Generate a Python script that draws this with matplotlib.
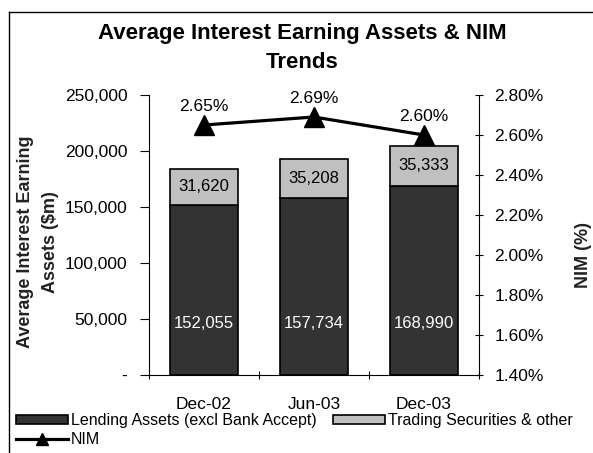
import matplotlib
matplotlib.use("Agg")
import matplotlib.pyplot as plt
from matplotlib.ticker import FuncFormatter, FixedLocator
from matplotlib.lines import Line2D
from matplotlib.patches import Patch
import numpy as np

plt.rcParams['font.family'] = ['Liberation Sans', 'DejaVu Sans']

periods = ["Dec-02", "Jun-03", "Dec-03"]
lending = [152055, 157734, 168990]
trading = [31620, 35208, 35333]
nim = [2.65, 2.69, 2.60]

dark = "#333333"
light = "#c0c0c0"

fig = plt.figure(figsize=(5.93, 4.53), dpi=100)
ax = fig.add_axes([149/593, 1-375/453, (479-149)/593, (375-95)/453])
x = np.arange(len(periods))
w = 0.62
ax.bar(x, lending, w, color=dark, edgecolor="black", linewidth=1.2, zorder=2)
ax.bar(x, trading, w, bottom=lending, color=light, edgecolor="black", linewidth=1.2, zorder=2)

for i in range(len(periods)):
    ax.text(x[i], 46000, f"{lending[i]:,}", ha="center", va="center", color="white", fontsize=12, zorder=3)
    ax.text(x[i], lending[i] + trading[i]/2, f"{trading[i]:,}", ha="center", va="center", color="black", fontsize=12, zorder=3)

ax.set_xlim(-0.5, 2.5)
ax.set_ylim(0, 250000)
ax.set_yticks(np.arange(0, 250001, 50000))
ax.yaxis.set_major_formatter(FuncFormatter(lambda v, p: "-" if v == 0 else f"{int(v):,}"))
ax.set_xticks(x)
ax.set_xticklabels(periods)
ax.xaxis.set_minor_locator(FixedLocator([-0.5, 0.5, 1.5, 2.5]))
ax.tick_params(axis="x", which="major", length=0, pad=16, labelsize=12.5)
ax.tick_params(axis="x", which="minor", direction="inout", length=6, width=0.8)
ax.tick_params(axis="y", direction="out", length=6.5, width=0.8, pad=9, labelsize=12.5)
for s in ["top", "right"]:
    ax.spines[s].set_visible(False)
ax.spines["left"].set_linewidth(0.8)
ax.spines["bottom"].set_linewidth(0.8)

ax2 = ax.twinx()
ax2.plot(x, nim, color="black", linewidth=2.3, marker="^", markersize=14, zorder=5)
ax2.set_ylim(1.40, 2.80)
ax2.set_yticks(np.arange(1.40, 2.801, 0.20))
ax2.yaxis.set_major_formatter(FuncFormatter(lambda v, p: f"{v:.2f}%"))
ax2.tick_params(axis="y", direction="inout", length=6, width=0.8, pad=8, labelsize=12.5)
for s in ["top", "left", "bottom"]:
    ax2.spines[s].set_visible(False)
ax2.spines["right"].set_linewidth(0.8)
for i in range(len(periods)):
    ax2.annotate(f"{nim[i]:.2f}%", (x[i], nim[i]), xytext=(0, 13.5), textcoords="offset points",
                 ha="center", va="center", fontsize=12.5)

fig.text(302/593, 1-48/453, "Average Interest Earning Assets & NIM\nTrends", ha="center", va="center",
         fontsize=16, fontweight="bold", linespacing=1.55)
fig.text(38/593, 1-242/453, "Average Interest Earning\nAssets ($m)", rotation=90, ha="center", va="center",
         fontsize=13, fontweight="bold", color="#222222", linespacing=1.55)
fig.text(583/593, 1-255/453, "NIM (%)", rotation=90, ha="center", va="center",
         fontsize=13, fontweight="bold", color="#222222")

handles = [Patch(facecolor=dark, edgecolor="black", linewidth=1.2),
           Line2D([0], [0], color="black", linewidth=2.3, marker="^", markersize=8),
           Patch(facecolor=light, edgecolor="black", linewidth=1.2)]
labels = ["Lending Assets (excl Bank Accept)", "NIM", "Trading Securities & other"]
fig.legend(handles, labels, loc="upper left", bbox_to_anchor=(16/593, 1-413/453), ncol=2, frameon=False,
           fontsize=11.5, handlelength=3.25, handleheight=0.5, handletextpad=0.2, columnspacing=1.0,
           labelspacing=0.25, borderpad=0, borderaxespad=0)

fig.add_artist(Line2D([9/593, 9/593], [0, 1-12/453], color="black", linewidth=1, transform=fig.transFigure))
fig.add_artist(Line2D([9/593, 1], [1-12/453, 1-12/453], color="black", linewidth=1, transform=fig.transFigure))

fig.savefig("out.png", dpi=100)
